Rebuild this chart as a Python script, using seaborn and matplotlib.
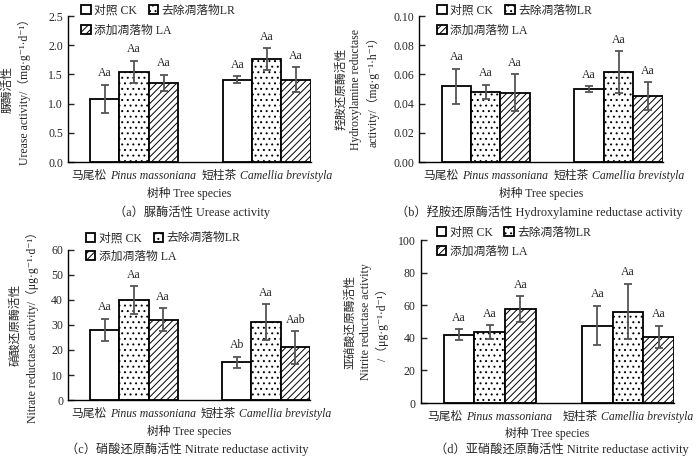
import numpy as np
import pandas as pd
import seaborn as sns
import matplotlib.pyplot as plt
from matplotlib.ticker import FormatStrFormatter, MultipleLocator

# Data
species_cn = ["马尾松", "短柱茶"]
species_la = ["Pinus massoniana", "Camellia brevistyla"]
treatments = ["对照 CK", "去除凋落物LR", "添加凋落物 LA"]

# values per species: [CK, LR, LA]
urease_mean = [[1.08, 1.54, 1.35], [1.41, 1.76, 1.41]]
urease_err = [[0.24, 0.19, 0.14], [0.06, 0.19, 0.21]]
urease_sig = [["Aa", "Aa", "Aa"], ["Aa", "Aa", "Aa"]]

hydrox_mean = [[0.052, 0.048, 0.0475], [0.050, 0.0615, 0.045]]
hydrox_err = [[0.012, 0.005, 0.0125], [0.002, 0.0145, 0.0095]]
hydrox_sig = [["Aa", "Aa", "Aa"], ["Aa", "Aa", "Aa"]]

nitrate_mean = [[28.0, 40.0, 32.0], [15.0, 31.0, 21.0]]
nitrate_err = [[4.5, 5.5, 4.6], [2.3, 7.2, 6.5]]
nitrate_sig = [["Aa", "Aa", "Aa"], ["Ab", "Aa", "Aab"]]

nitrite_mean = [[42.0, 43.5, 57.5], [47.5, 56.0, 40.5]]
nitrite_err = [[3.3, 4.2, 8.0], [12.0, 17.0, 7.0]]
nitrite_sig = [["Aa", "Aa", "Aa"], ["Aa", "Aa", "Aa"]]

sns.set_style("ticks")
plt.rcParams["font.family"] = ["Liberation Serif", "DejaVu Serif", "Noto Sans CJK SC"]
plt.rcParams["hatch.linewidth"] = 0.7
plt.rcParams["font.size"] = 8

hatches = ["", "...", "/////"]
DPI = 100

panels = [
    dict(mean=urease_mean, err=urease_err, sig=urease_sig,
         rect=[0.097, 0.647, 0.347, 0.318], ymax=2.5, step=0.5, fmt="%.1f",
         ylabel="脲酶活性\nUrease activity/（mg·g⁻¹·d⁻¹）", ylx=-0.152, xly=-0.171,
         leg=(0.035, 1.11, 0.973),
         caption="（a）脲酶活性 Urease activity", cap_xy=(0.274, 0.538)),
    dict(mean=hydrox_mean, err=hydrox_err, sig=hydrox_sig,
         rect=[0.599, 0.647, 0.348, 0.318], ymax=0.10, step=0.02, fmt="%.2f",
         ylabel="羟胺还原酶活性\nHydroxylamine reductase\nactivity/（mg·g⁻¹·h⁻¹）", ylx=-0.164, xly=-0.171,
         leg=(0.055, 1.11, 0.973),
         caption="（b）羟胺还原酶活性 Hydroxylamine reductase activity", cap_xy=(0.771, 0.538)),
    dict(mean=nitrate_mean, err=nitrate_err, sig=nitrate_sig,
         rect=[0.097, 0.1285, 0.346, 0.327], ymax=60, step=10, fmt="%d",
         ylabel="硝酸还原酶活性\nNitrate reductase activity/（μg·g⁻¹·d⁻¹）", ylx=-0.12, xly=-0.167,
         leg=(0.055, 1.15, 1.027),
         caption="（c）硝酸还原酶活性 Nitrate reductase activity", cap_xy=(0.267, 0.022)),
    dict(mean=nitrite_mean, err=nitrite_err, sig=nitrite_sig,
         rect=[0.601, 0.122, 0.362, 0.355], ymax=100, step=20, fmt="%d",
         ylabel="亚硝酸还原酶活性\nNitrite reductase activity\n/（μg·g⁻¹·d⁻¹）", ylx=-0.126, xly=-0.147,
         leg=(0.045, 1.11, 0.994),
         caption="（d）亚硝酸还原酶活性 Nitrite reductase activity", cap_xy=(0.803, 0.022)),
]

fig = plt.figure(figsize=(7, 4.59), dpi=DPI)
renderer = fig.canvas.get_renderer()

for p in panels:
    ax = fig.add_axes(p["rect"])
    rows = []
    for i, sp in enumerate(species_la):
        for j, tr in enumerate(treatments):
            rows.append({"species": sp, "treatment": tr, "value": p["mean"][i][j],
                         "err": p["err"][i][j], "sig": p["sig"][i][j]})
    df = pd.DataFrame(rows)

    sns.barplot(data=df, x="species", y="value", hue="treatment",
                hue_order=treatments, palette=["white"] * 3, width=0.665, gap=0,
                edgecolor="black", linewidth=1.3, errorbar=None, ax=ax,
                legend=False, saturation=1)

    conts = list(ax.containers)
    for j, cont in enumerate(conts):
        sub = df[df["treatment"] == treatments[j]]
        for bar, (_, r) in zip(cont.patches, sub.iterrows()):
            bar.set_hatch(hatches[j])
            xc = bar.get_x() + bar.get_width() / 2
            ax.errorbar(xc, r["value"], yerr=r["err"], color="#555555",
                        elinewidth=1.3, capsize=3, capthick=1.3, zorder=5)
            ax.annotate(r["sig"], (xc, r["value"] + r["err"]), xytext=(0, 4),
                        textcoords="offset points", ha="center", va="bottom",
                        fontsize=8.5)

    # legend: CK and LR on the first row, LA on its own row below
    lx, ly1, ly2 = p["leg"]
    leg1 = ax.legend([conts[0].patches[0], conts[1].patches[0]], treatments[:2],
                     ncol=2, loc="upper left", bbox_to_anchor=(lx, ly1),
                     frameon=False, handlelength=0.8, handleheight=0.8,
                     handletextpad=0.3, columnspacing=1.0, fontsize=8.5,
                     borderaxespad=0)
    ax.add_artist(leg1)
    ax.legend([conts[2].patches[0]], treatments[2:], loc="upper left",
              bbox_to_anchor=(lx, ly2), frameon=False, handlelength=0.8,
              handleheight=0.8, handletextpad=0.3, fontsize=8.5, borderaxespad=0)

    ax.set_xlim(-0.5, 1.333)
    ax.set_ylim(0, p["ymax"])
    ax.yaxis.set_major_locator(MultipleLocator(p["step"]))
    ax.yaxis.set_major_formatter(FormatStrFormatter(p["fmt"]))
    ax.tick_params(axis="y", direction="in", length=4, width=1, labelsize=8.5)
    ax.tick_params(axis="x", length=0)
    ax.set_xticklabels([])
    sns.despine(ax=ax)
    for s in ["left", "bottom"]:
        ax.spines[s].set_color("black")
        ax.spines[s].set_linewidth(1)

    # tick labels: Chinese name upright + Latin name in italics, centred as a pair
    for xt, cn, la in zip(ax.get_xticks(), species_cn, species_la):
        t_cn = ax.annotate(cn, (xt, 0), xycoords=ax.get_xaxis_transform(),
                           xytext=(0, -10.2), textcoords="offset points",
                           ha="left", va="center", fontsize=8.5)
        t_la = ax.annotate(la, (xt, 0), xycoords=ax.get_xaxis_transform(),
                           xytext=(0, -10.2), textcoords="offset points",
                           ha="left", va="center", fontsize=8.5, fontstyle="italic")
        w_cn = t_cn.get_window_extent(renderer).width
        w_la = t_la.get_window_extent(renderer).width
        gap = 3.5
        total = w_cn + gap + w_la
        t_cn.xyann = (-total / 2 * 72 / DPI, -10.2)
        t_la.xyann = ((-total / 2 + w_cn + gap) * 72 / DPI, -10.2)

    ax.set_xlabel("树种 Tree species", fontsize=8.5)
    ax.xaxis.set_label_coords(0.5, p["xly"])
    ax.set_ylabel(p["ylabel"], fontsize=8.5, linespacing=1.4)
    ax.yaxis.set_label_coords(p["ylx"], 0.5)
    fig.text(p["cap_xy"][0], p["cap_xy"][1], p["caption"], ha="center",
             va="center", fontsize=8.8)

fig.savefig("out.png", dpi=DPI)
